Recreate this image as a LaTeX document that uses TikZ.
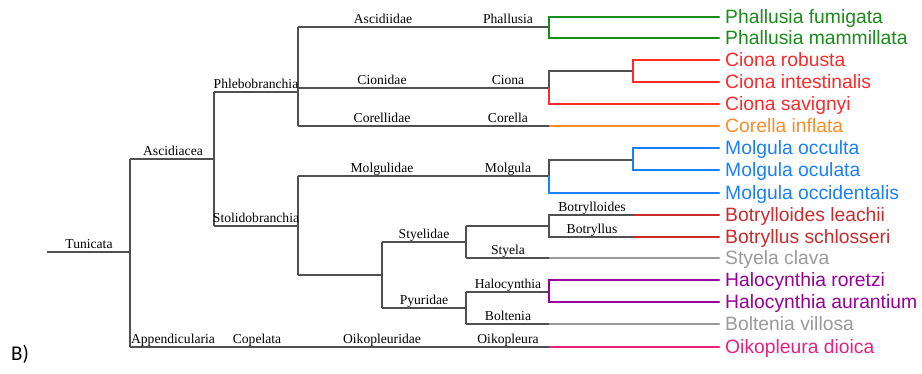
\documentclass[tikz,border=0pt]{standalone}
\usepackage{fontspec}
\setmainfont{Liberation Serif}
\newfontfamily\leaffont{Liberation Sans}
\newfontfamily\tagfont{Carlito}
\definecolor{tree}{HTML}{505050}
\definecolor{cgreen}{HTML}{1A8C1A}
\definecolor{cred}{HTML}{FF2A2A}
\definecolor{corange}{HTML}{FF8C2A}
\definecolor{cblue}{HTML}{1A80FF}
\definecolor{cdred}{HTML}{CC2B2B}
\definecolor{cgray}{HTML}{9A9A9A}
\definecolor{cpurple}{HTML}{990099}
\definecolor{cpink}{HTML}{E6217F}
\tikzset{
  br/.style={draw=tree, line width=1.1pt},
  cbr/.style={draw=#1, line width=1.1pt},
  lab/.style={anchor=base, inner sep=0pt, font=\fontsize{13.6}{14}\selectfont},
  leaf/.style={anchor=base west, inner sep=0pt, text=#1, font=\leaffont\fontsize{19.3}{20}\selectfont},
  tip/.style={fill=#1, circle, inner sep=0pt, minimum size=2.2pt},
}
\begin{document}
\begin{tikzpicture}[x=1pt,y=-1pt]
\useasboundingbox (0,0) rectangle (922,374);
% junction coordinates
\coordinate (root) at (47,252);
\coordinate (n130a) at (130,159); \coordinate (n130b) at (130,252); \coordinate (n130c) at (130,347);
\coordinate (n214a) at (214,92); \coordinate (n214b) at (214,159); \coordinate (n214c) at (214,226);
\coordinate (p298a) at (298,27); \coordinate (p298b) at (298,88); \coordinate (p298c) at (298,92); \coordinate (p298d) at (298,126);
\coordinate (s298a) at (298,176); \coordinate (s298b) at (298,226); \coordinate (s298c) at (298,275);
\coordinate (s382a) at (382,242); \coordinate (s382b) at (382,275); \coordinate (s382c) at (382,308);
\coordinate (s466a) at (466,226); \coordinate (s466b) at (466,242); \coordinate (s466c) at (466,258);
\coordinate (s466d) at (466,292); \coordinate (s466e) at (466,308); \coordinate (s466f) at (466,324);
\coordinate (g549a) at (549,17); \coordinate (g549b) at (549,27); \coordinate (g549c) at (549,38);
\coordinate (c549a) at (549,71); \coordinate (c549b) at (549,88); \coordinate (c549c) at (549,104);
\coordinate (o549) at (549,126);
\coordinate (m549a) at (549,160); \coordinate (m549b) at (549,176); \coordinate (m549c) at (549,193);
\coordinate (b549a) at (549,215); \coordinate (b549b) at (549,226); \coordinate (b549c) at (549,237);
\coordinate (st549) at (549,258);
\coordinate (h549a) at (549,280); \coordinate (h549b) at (549,292); \coordinate (h549c) at (549,302);
\coordinate (bo549) at (549,324);
\coordinate (oi549) at (549,347);
\coordinate (c633a) at (633,60); \coordinate (c633b) at (633,71); \coordinate (c633c) at (633,82);
\coordinate (m633a) at (633,148); \coordinate (m633b) at (633,160); \coordinate (m633c) at (633,170);
\coordinate (b633a) at (633,215); \coordinate (b633b) at (633,237);
% leaf tips
\foreach \n/\y in {1/17,2/38,3/60,4/82,5/104,6/126,7/148,8/170,9/193,10/215,11/237,12/258,13/280,14/302,15/324,16/347}
  \coordinate (t\n) at (719,\y);
% backbone
\draw[br] (root) -- (n130b);
\draw[br] (n130a) -- (n130c);
\draw[br] (n130a) -- (n214b);
\draw[br] (n214a) -- (n214c);
\draw[br] (n214a) -- (p298c);
\draw[br] (n214c) -- (s298b);
\draw[br] (p298a) -- (p298d);
\draw[br] (s298a) -- (s298c);
\draw[br] (n130c) -- (oi549);
% Phlebobranchia
\draw[br] (p298a) -- (g549b);
\draw[br] (p298b) -- (c549b);
\draw[br] (p298d) -- (o549);
\draw[cbr=cgreen] (t1) -- (g549a) -- (g549c) -- (t2);
\draw[br] (c549b) -- (c549a) -- (c633b);
\draw[cbr=cred] (c549b) -- (c549c) -- (t5);
\draw[cbr=cred] (t3) -- (c633a) -- (c633c) -- (t4);
\draw[cbr=corange] (o549) -- (t6);
% Stolidobranchia
\draw[br] (s298a) -- (m549b);
\draw[br] (m549b) -- (m549a) -- (m633b);
\draw[cbr=cblue] (m549b) -- (m549c) -- (t9);
\draw[cbr=cblue] (t7) -- (m633a) -- (m633c) -- (t8);
\draw[br] (s298c) -- (s382b);
\draw[br] (s382a) -- (s382c);
\draw[br] (s382a) -- (s466b);
\draw[br] (s382c) -- (s466e);
\draw[br] (s466a) -- (s466c);
\draw[br] (s466d) -- (s466f);
\draw[br] (s466a) -- (b549b);
\draw[br] (b633a) -- (b549a) -- (b549c) -- (b633b);
\draw[cbr=cdred] (b633a) -- (t10);
\draw[cbr=cdred] (b633b) -- (t11);
\draw[br] (s466c) -- (st549);
\draw[cbr=cgray] (st549) -- (t12);
\draw[br] (s466d) -- (h549b);
\draw[cbr=cpurple] (t13) -- (h549a) -- (h549c) -- (t14);
\draw[br] (s466f) -- (bo549);
\draw[cbr=cgray] (bo549) -- (t15);
\draw[cbr=cpink] (oi549) -- (t16);
% tips
\foreach \n/\c in {1/cgreen,2/cgreen,3/cred,4/cred,5/cred,6/corange,7/cblue,8/cblue,9/cblue,10/cdred,11/cdred,12/cgray,13/cpurple,14/cpurple,15/cgray,16/cpink}
  \node[tip=\c] at (t\n) {};
% leaf labels
\node[leaf=cgreen] (L1) at (725,24) {Phallusia fumigata};
\node[leaf=cgreen] (L2) at (725,45) {Phallusia mammillata};
\node[leaf=cred] (L3) at (725,67) {Ciona robusta};
\node[leaf=cred] (L4) at (725,89) {Ciona intestinalis};
\node[leaf=cred] (L5) at (725,111) {Ciona savignyi};
\node[leaf=corange] (L6) at (725,133) {Corella inflata};
\node[leaf=cblue] (L7) at (725,155) {Molgula occulta};
\node[leaf=cblue] (L8) at (725,177) {Molgula oculata};
\node[leaf=cblue] (L9) at (725,200) {Molgula occidentalis};
\node[leaf=cdred] (L10) at (725,222) {Botrylloides leachii};
\node[leaf=cdred] (L11) at (725,244) {Botryllus schlosseri};
\node[leaf=cgray] (L12) at (725,265) {Styela clava};
\node[leaf=cpurple] (L13) at (725,287) {Halocynthia roretzi};
\node[leaf=cpurple] (L14) at (725,309) {Halocynthia aurantium};
\node[leaf=cgray] (L15) at (725,331) {Boltenia villosa};
\node[leaf=cpink] (L16) at (725,354) {Oikopleura dioica};
% clade labels
\node[lab] (tunicata) at (89,249) {Tunicata};
\node[lab] (ascidiacea) at (173,156) {Ascidiacea};
\node[lab] (phleb) at (256,89) {Phlebobranchia};
\node[lab] (stolid) at (256,223) {Stolidobranchia};
\node[lab] (append) at (173,344) {Appendicularia};
\node[lab] (copelata) at (257,344) {Copelata};
\node[lab] (ascidiidae) at (383,24) {Ascidiidae};
\node[lab] (phallusia) at (508,24) {Phallusia};
\node[lab] (cionidae) at (382,85) {Cionidae};
\node[lab] (ciona) at (508,85) {Ciona};
\node[lab] (corellidae) at (382,123) {Corellidae};
\node[lab] (corella) at (508,123) {Corella};
\node[lab] (molgulidae) at (382,173) {Molgulidae};
\node[lab] (molgula) at (508,173) {Molgula};
\node[lab] (styelidae) at (424,239) {Styelidae};
\node[lab] (styela) at (508,255) {Styela};
\node[lab] (halocynthia) at (508,289) {Halocynthia};
\node[lab] (pyuridae) at (424,305) {Pyuridae};
\node[lab] (boltenia) at (508,321) {Boltenia};
\node[lab] (oikopleuridae) at (382,344) {Oikopleuridae};
\node[lab] (oikopleura) at (508,344) {Oikopleura};
\node[lab] (botrylloides) at (592,212) {Botrylloides};
\node[lab] (botryllus) at (592,234) {Botryllus};
% panel tag
\node[anchor=base, inner sep=0pt, font=\tagfont\fontsize{21}{22}\selectfont] (tag) at (20,361) {B)};
\end{tikzpicture}
\end{document}
